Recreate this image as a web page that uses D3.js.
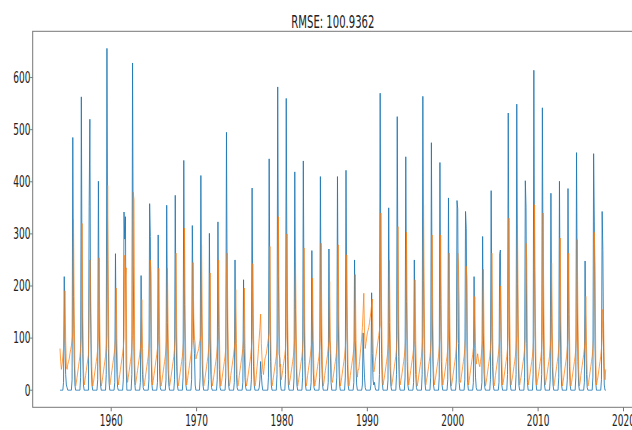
<!DOCTYPE html>
<html lang="en">
<head>
  <meta charset="UTF-8">
  <title>RMSE chart</title>
  <script type="text/javascript" src="https://d3js.org/d3.v7.min.js"></script>
  <style>
    body { margin: 0; background: #fff; }
    text { font-family: "DejaVu Sans", sans-serif; fill: #222; }
  </style>
</head>
<body>
  <svg width="632" height="430"></svg>
<script type="text/javascript">
// monthly values, one row per year (Jan..Dec), first row is 1954
var startYear = 1954;
var titleText = "RMSE: 100.9362";
var xTicks = [1960, 1970, 1980, 1990, 2000, 2010, 2020];
var yTicks = [0, 100, 200, 300, 400, 500, 600];

// observed (blue)
var actual = [
  [0,0,0,0,0,15,218,85,30,10,5,0],      // 1954
  [0,0,0,0,0,20,485,180,60,10,0,0],
  [0,0,0,0,0,25,563,210,70,10,0,0],
  [0,0,0,0,0,352,520,150,45,10,0,0],
  [0,0,0,0,0,20,401,150,50,10,0,0],
  [0,0,0,0,0,30,656,250,80,15,0,0],
  [0,0,0,0,0,15,262,100,35,5,0,0],      // 1960
  [0,0,0,0,0,20,342,290,333,50,0,0],
  [0,0,0,0,0,30,628,240,75,15,0,0],
  [0,0,0,0,0,15,220,85,30,5,0,0],
  [0,0,0,0,0,20,358,295,80,15,0,0],
  [0,0,0,0,0,15,298,110,35,5,0,0],
  [0,0,0,0,0,20,355,130,40,10,0,0],
  [0,0,0,0,0,20,374,140,45,10,0,0],
  [0,0,0,0,0,25,441,165,55,10,0,0],
  [0,0,0,0,0,20,316,180,95,70,10,0],
  [0,0,0,0,0,25,412,150,50,10,0,0],     // 1970
  [0,0,0,0,0,20,301,110,35,5,0,0],
  [0,0,0,0,0,20,323,120,40,5,0,0],
  [0,0,0,0,0,25,495,185,60,10,0,0],
  [0,0,0,0,0,15,250,95,30,5,0,0],
  [0,0,0,0,0,15,212,80,25,5,0,0],
  [0,0,0,0,0,20,388,145,45,10,0,0],
  [0,0,0,0,5,20,55,30,10,0,0,0],
  [0,0,0,0,0,25,444,165,55,10,0,0],
  [0,0,0,0,0,30,582,220,70,60,10,0],
  [0,0,0,0,0,30,560,210,65,10,0,0],     // 1980
  [0,0,0,0,0,25,419,155,50,10,0,0],
  [0,0,0,0,0,25,440,165,55,10,0,0],
  [0,0,0,0,0,15,268,100,35,5,0,0],
  [0,0,0,0,0,25,410,150,50,10,0,0],
  [0,0,0,0,0,15,271,100,70,15,0,0],
  [0,0,0,0,0,25,410,150,50,10,0,0],
  [0,0,0,0,0,25,422,160,50,10,0,0],
  [0,0,0,0,0,15,250,95,48,10,0,0],
  [0,0,0,0,0,10,110,60,25,5,0,0],
  [0,0,0,0,0,10,187,70,20,10,15,5],     // 1990
  [0,0,0,0,0,30,570,215,70,15,0,0],
  [0,0,0,0,0,20,350,130,45,10,0,0],
  [0,0,0,0,0,30,525,195,65,10,0,0],
  [0,0,0,0,0,25,448,170,55,10,0,0],
  [0,0,0,0,0,15,250,95,30,5,0,0],
  [0,0,0,0,0,30,564,210,70,15,0,0],
  [0,0,0,0,0,25,475,180,60,10,0,0],
  [0,0,0,0,0,25,437,165,55,10,0,0],
  [0,0,0,0,0,20,369,140,45,10,0,0],
  [0,0,0,0,0,20,364,348,90,15,0,0],     // 2000
  [0,0,0,0,0,20,343,310,85,15,0,0],
  [0,0,0,0,0,15,218,80,25,5,0,0],
  [0,0,0,0,0,15,295,110,35,5,0,0],
  [0,0,0,0,0,20,383,145,45,10,0,0],
  [0,0,0,0,0,15,262,269,70,10,0,0],
  [0,0,0,0,0,30,532,200,65,10,0,0],
  [0,0,0,0,0,30,549,205,65,10,0,0],
  [0,0,0,0,0,25,402,351,90,15,0,0],
  [0,0,0,0,0,30,614,230,75,15,0,0],
  [0,0,0,0,0,30,542,205,65,10,0,0],     // 2010
  [0,0,0,0,0,20,378,140,45,10,0,0],
  [0,0,0,0,0,25,401,150,50,10,0,0],
  [0,0,0,0,0,20,387,145,45,10,0,0],
  [0,0,0,0,0,25,456,170,55,10,0,0],
  [0,0,0,0,0,15,248,95,30,5,0,0],
  [0,0,0,0,0,25,454,323,85,15,0,0],
  [0,0,0,0,0,20,343,268,75,10,0,0]      // 2017
];

// predicted (orange)
var predicted = [
  [80,55,40,50,65,80,100,191,95,45,40,50],      // 1954
  [55,60,70,78,85,95,110,327,150,40,8,15],
  [25,35,45,55,65,80,100,320,145,40,10,18],
  [28,38,48,58,68,150,250,200,90,30,8,15],
  [25,35,45,55,65,80,100,254,115,35,8,15],
  [25,35,45,55,65,80,105,393,180,45,10,18],
  [28,38,48,58,68,80,95,196,90,30,10,20],        // 1960
  [30,40,50,60,70,80,100,259,215,235,40,15],
  [25,35,45,55,65,80,105,380,365,60,10,18],
  [28,38,48,58,68,80,95,174,80,25,8,15],
  [25,35,45,55,65,80,100,250,225,50,10,18],
  [28,38,48,58,68,80,95,234,105,30,8,15],
  [25,35,45,55,65,80,100,234,110,30,8,15],
  [25,35,45,55,65,80,100,263,120,35,8,15],
  [25,35,45,55,65,80,100,311,140,40,10,18],
  [28,38,48,58,68,80,100,245,140,100,90,60],
  [65,70,75,80,90,95,105,279,125,35,8,15],      // 1970
  [25,35,45,55,65,80,95,225,100,30,8,15],
  [25,35,45,55,65,80,100,250,115,35,8,15],
  [25,35,45,55,65,80,225,263,120,35,8,15],
  [28,38,48,58,68,80,95,193,90,25,8,15],
  [28,38,48,58,68,80,95,196,90,25,8,15],
  [25,35,45,55,65,80,100,243,110,35,8,15],
  [30,45,60,80,100,120,146,90,60,40,30,45],
  [60,65,70,80,90,100,110,276,125,35,8,15],
  [25,35,45,55,65,80,105,333,150,45,50,20],
  [28,38,48,58,68,80,105,300,135,40,10,18],     // 1980
  [25,35,45,55,65,80,100,244,110,35,8,15],
  [25,35,45,55,65,80,100,273,125,35,8,15],
  [28,38,48,58,68,80,95,215,95,30,8,15],
  [25,35,45,55,65,80,100,282,125,35,8,15],
  [28,38,48,58,68,80,95,209,95,60,20,15],
  [25,35,45,55,65,80,100,279,125,35,8,15],
  [25,35,45,55,65,80,100,260,120,35,8,15],
  [28,38,48,58,68,80,95,222,100,45,25,40],
  [40,55,70,85,100,120,150,186,110,80,90,100],
  [110,115,120,130,140,150,165,175,90,35,40,55], // 1990
  [65,75,85,95,105,115,125,340,155,45,10,18],
  [25,35,45,55,65,80,100,249,115,35,8,15],
  [25,35,45,55,65,80,105,314,145,40,10,18],
  [25,35,45,55,65,80,100,303,140,40,10,18],
  [28,38,48,58,68,80,95,212,95,30,8,15],
  [25,35,45,55,65,80,105,356,160,45,10,18],
  [25,35,45,55,65,80,100,298,135,40,10,18],
  [25,35,45,55,65,80,100,298,135,40,10,18],
  [25,35,45,55,65,80,100,263,120,35,8,15],
  [25,35,45,55,65,80,100,263,240,170,20,15],    // 2000
  [25,35,45,55,65,80,100,238,215,60,10,18],
  [28,38,48,58,68,80,95,180,85,50,60,70],
  [60,50,45,55,65,80,95,232,105,30,8,15],
  [25,35,45,55,65,80,100,263,120,35,8,15],
  [28,38,48,58,68,80,95,200,120,60,10,15],
  [25,35,45,55,65,80,105,330,150,45,10,18],
  [25,35,45,55,65,80,105,314,145,40,10,18],
  [25,35,45,55,65,80,100,282,250,60,10,18],
  [25,35,45,55,65,80,105,356,160,45,10,18],
  [25,35,45,55,65,80,105,340,155,45,10,18],     // 2010
  [25,35,45,55,65,80,100,244,110,35,8,15],
  [25,35,45,55,65,80,100,292,130,40,8,15],
  [25,35,45,55,65,80,100,263,120,35,8,15],
  [25,35,45,55,65,80,100,289,130,40,8,15],
  [28,38,48,58,68,80,95,180,85,30,8,15],
  [25,35,45,55,65,80,100,303,240,60,10,18],
  [25,35,45,55,65,80,100,155,130,45,20,40]      // 2017
];

// turn the year rows into (fractional year, value) points
function toPoints(rows) {
  var pts = [];
  rows.forEach(function(row, i) {
    row.forEach(function(v, m) {
      pts.push({ t: startYear + i + m / 12, v: v });
    });
  });
  return pts;
}
var actualPts = toPoints(actual);
var predictedPts = toPoints(predicted);

var svg = d3.select("svg");
// plot box in pixels (right spine falls just outside the 632px window, as in the reference)
var plotL = 32.7, plotR = 633, plotT = 31.3, plotB = 407.3;

// matplotlib style 5% margins on both axes
var tMin = d3.min(actualPts, d => d.t), tMax = d3.max(actualPts, d => d.t);
var allPts = actualPts.concat(predictedPts);
var vMin = d3.min(allPts, d => d.v), vMax = d3.max(allPts, d => d.v);
var tPad = (tMax - tMin) * 0.05, vPad = (vMax - vMin) * 0.05;

var x = d3.scaleLinear().domain([tMin - tPad, tMax + tPad]).range([plotL, plotR]);
var y = d3.scaleLinear().domain([vMin - vPad, vMax + vPad]).range([plotB, plotT]);

var line = d3.line().x(d => x(d.t)).y(d => y(d.v));

svg.append("path")
  .datum(actualPts)
  .attr("d", line)
  .attr("fill", "none")
  .attr("stroke", "#1f77b4")
  .attr("stroke-width", 1)
  .attr("stroke-opacity", 0.85)
  .attr("stroke-linejoin", "round");

svg.append("path")
  .datum(predictedPts)
  .attr("d", line)
  .attr("fill", "none")
  .attr("stroke", "#ff7f0e")
  .attr("stroke-width", 1)
  .attr("stroke-opacity", 0.75)
  .attr("stroke-linejoin", "round");

// spines
svg.append("rect")
  .attr("x", plotL).attr("y", plotT)
  .attr("width", plotR - plotL).attr("height", plotB - plotT)
  .attr("fill", "none")
  .attr("stroke", "#777")
  .attr("stroke-width", 1);

// x axis ticks + labels (text squeezed horizontally like the reference)
var xg = svg.append("g");
xTicks.forEach(function(t) {
  xg.append("line")
    .attr("x1", x(t)).attr("x2", x(t))
    .attr("y1", plotB).attr("y2", plotB + 4)
    .attr("stroke", "#777");
  xg.append("text")
    .attr("transform", "translate(" + x(t) + "," + 426 + ") scale(0.6,1)")
    .attr("text-anchor", "middle")
    .attr("font-size", 15)
    .text(d3.format("d")(t));
});

// y axis ticks + labels
var yg = svg.append("g");
yTicks.forEach(function(v) {
  yg.append("line")
    .attr("x1", plotL - 2.5).attr("x2", plotL)
    .attr("y1", y(v)).attr("y2", y(v))
    .attr("stroke", "#777");
  yg.append("text")
    .attr("transform", "translate(" + 30.5 + "," + (y(v) + 5.3) + ") scale(0.6,1)")
    .attr("text-anchor", "end")
    .attr("font-size", 15)
    .text(v);
});

// title
svg.append("text")
  .attr("transform", "translate(" + ((plotL + plotR) / 2) + "," + 28 + ") scale(0.56,1)")
  .attr("text-anchor", "middle")
  .attr("font-size", 18)
  .text(titleText);
</script>
</body>
</html>
